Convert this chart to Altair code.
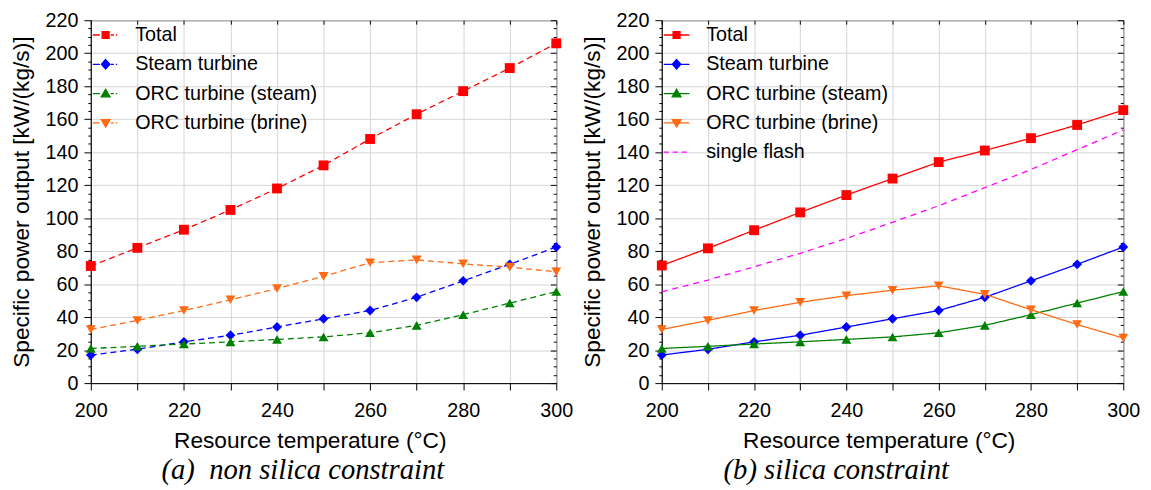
import altair as alt
import pandas as pd

# ---------------- data ----------------
temps = [200, 210, 220, 230, 240, 250, 260, 270, 280, 290, 300]
series_names = ["Total", "Steam turbine", "ORC turbine (steam)", "ORC turbine (brine)"]
flash_name = "single flash"

a_total = [71, 82, 93, 105, 118, 132, 148, 163, 177, 191, 206]
a_steam = [17, 20.5, 25, 29, 34, 39, 44, 52, 62, 72, 82.5]
a_orc_steam = [21, 22.3, 23.7, 25, 26.5, 28, 30.5, 35, 41.5, 48.5, 55.5]
a_orc_brine = [32.5, 38, 44, 50.5, 57.3, 64.7, 73, 74.7, 72.3, 70.3, 67.5]

b_total = [71.3, 81.7, 92.7, 103.5, 114, 124, 134, 141, 148.5, 156.5, 165.5]
b_steam = [17, 20.5, 25, 29, 34, 39, 44, 52, 62, 72, 82.5]
b_orc_steam = [21, 22.3, 23.7, 25, 26.5, 28, 30.5, 35, 41.5, 48.5, 55.5]
b_orc_brine = [32.5, 38, 44, 49, 53, 56.3, 59, 53.8, 44.5, 35.5, 27.3]
b_single_flash = [55.3, 62.5, 70.5, 78.7, 87.7, 97.5, 107.5, 118.5, 129.5, 141.5, 153.5]

x_ticks = [200, 210, 220, 230, 240, 250, 260, 270, 280, 290, 300]
y_ticks = [0, 20, 40, 60, 80, 100, 120, 140, 160, 180, 200, 220]
y_minor = [v for v in range(0, 221, 5) if v % 20 != 0]

colors4 = ["#ff0000", "#0000ff", "#008000", "#ff6a13"]
flash_color = "#ff00ff"
std_shapes = ["square", "diamond", "triangle-up", "triangle-down"]

FONT = "Liberation Sans"
SERIF = "Liberation Serif"

# legend symbols: line piece + marker drawn as one custom path
sq = "M-0.27,-0.27H0.27V0.27H-0.27Z"
dm = "M0,-0.37L0.33,0L0,0.37L-0.33,0Z"
tu = "M0,-0.33L0.34,0.25L-0.34,0.25Z"
td = "M0,0.33L0.34,-0.25L-0.34,-0.25Z"
dash_seg = "M-1,0H-0.45M0.4,0H0.64M0.8,0H0.9"
solid_seg = "M-1,0H1"
flash_seg = "M-1,0H-0.6M-0.3,0H0.1M0.4,0H0.8"


def long_df(cols):
    rows = []
    for name, vals in cols:
        for t, v in zip(temps, vals):
            rows.append({"T": t, "value": v, "series": name})
    return pd.DataFrame(rows)


def color_expr(names, colors):
    expr = "'black'"
    for n, c in reversed(list(zip(names, colors))):
        expr = f"datum.value === '{n}' ? '{c}' : ({expr})"
    return expr


def panel(df, names, colors, legend_shapes, dash_range, caption, dx, width):
    x_sc = alt.Scale(domain=[200, 300], nice=False, zero=False)
    y_sc = alt.Scale(domain=[0, 220], nice=False)
    base = alt.Chart(df)
    color = alt.Color("series:N", scale=alt.Scale(domain=names, range=colors), legend=None)

    lines = base.mark_line(strokeWidth=1.3).encode(
        x=alt.X("T:Q", scale=x_sc, axis=alt.Axis(
            values=x_ticks, labelExpr="datum.value % 20 == 0 ? datum.label : ''",
            title="Resource temperature (°C)", grid=True, tickSize=7,
            labelPadding=11, titlePadding=9, titleX=width / 2 - 14)),
        y=alt.Y("value:Q", scale=y_sc, axis=alt.Axis(
            values=y_ticks, title="Specific power output [kW/(kg/s)]", grid=True,
            tickSize=7, labelPadding=6, titlePadding=12)),
        color=color,
        strokeDash=alt.StrokeDash("series:N", scale=alt.Scale(domain=names, range=dash_range), legend=None),
    )

    pts = base.transform_filter(alt.datum.series != flash_name).mark_point(
        filled=True, opacity=1, size=100).encode(
        x=alt.X("T:Q", scale=x_sc, axis=alt.Axis(
            orient="top", values=x_ticks, labels=False, title=None, grid=False,
            domain=False, tickSize=4, offset=-4)),
        y=alt.Y("value:Q", scale=y_sc, axis=alt.Axis(
            orient="right", values=y_ticks, labels=False, title=None, grid=False,
            domain=False, tickSize=6, offset=-6)),
        color=color,
        shape=alt.Shape("series:N", scale=alt.Scale(domain=names[:4], range=std_shapes), legend=None),
    )

    cexpr = color_expr(names, colors)
    leg = alt.Legend(title=None, orient="top-left", offset=1, padding=0,
                     labelFont=FONT, labelFontSize=20, labelColor="black", labelLimit=400,
                     symbolSize=676, symbolStrokeWidth=1.3, labelOffset=16,
                     rowPadding=5.7, symbolOpacity=1,
                     symbolFillColor=alt.ExprRef(cexpr),
                     symbolStrokeColor=alt.ExprRef(cexpr))
    legend_layer = base.transform_filter("datum.T < 0").mark_point(
        filled=True, opacity=1, strokeWidth=1.3).encode(
        x=alt.X("T:Q", scale=x_sc, axis=None),
        y=alt.Y("value:Q", scale=y_sc, axis=alt.Axis(
            orient="right", values=y_minor, labels=False, title=None, grid=False,
            domain=False, tickSize=3, offset=-3)),
        fill=alt.Fill("series:N", scale=alt.Scale(domain=names, range=colors), legend=leg),
        stroke=alt.Stroke("series:N", scale=alt.Scale(domain=names, range=colors), legend=leg),
        shape=alt.Shape("series:N", scale=alt.Scale(domain=names, range=legend_shapes), legend=leg),
    )

    minor_left = base.transform_filter("datum.T < 0").mark_point().encode(
        y=alt.Y("value:Q", scale=y_sc, axis=alt.Axis(
            orient="left", values=y_minor, labels=False, title=None, grid=False,
            domain=False, tickSize=3)),
    )

    return alt.layer(lines, pts, legend_layer, minor_left).resolve_scale(
        shape="independent").resolve_axis(x="independent", y="independent").properties(
        width=width, height=368,
        title=alt.TitleParams(caption, orient="bottom", anchor="middle", frame="group",
                              font=SERIF, fontStyle="italic", fontWeight="normal",
                              fontSize=29, color="black", offset=4, dx=dx))


df_a = long_df(list(zip(series_names, [a_total, a_steam, a_orc_steam, a_orc_brine])))
df_b = long_df(list(zip(series_names + [flash_name],
                        [b_total, b_steam, b_orc_steam, b_orc_brine, b_single_flash])))

left = panel(df_a, series_names, colors4,
             [dash_seg + sq, dash_seg + dm, dash_seg + tu, dash_seg + td],
             [[6, 4]] * 4, "(a)\u00a0 non silica constraint", -21, 472)
right = panel(df_b, series_names + [flash_name], colors4 + [flash_color],
              [solid_seg + sq, solid_seg + dm, solid_seg + tu, solid_seg + td, flash_seg],
              [[1, 0]] * 4 + [[6, 5]], "(b) silica constraint", -57, 468)

chart = alt.hconcat(left, right, spacing=7).resolve_scale(
    x="independent", y="independent", color="independent", shape="independent",
    fill="independent", stroke="independent", strokeDash="independent"
).properties(
    padding={"left": 2, "top": -2, "right": 2, "bottom": 0}
).configure_view(stroke="black", strokeWidth=1).configure_axis(
    labelFont=FONT, labelFontSize=20, labelColor="black",
    titleFont=FONT, titleFontSize=23, titleFontWeight="normal", titleColor="black",
    domainColor="black", tickColor="black", gridColor="#d4d4d4", gridWidth=1,
    labelFlush=False, labelOverlap=False
)

chart.save("out.html", embed_options={"renderer": "svg", "actions": False})
